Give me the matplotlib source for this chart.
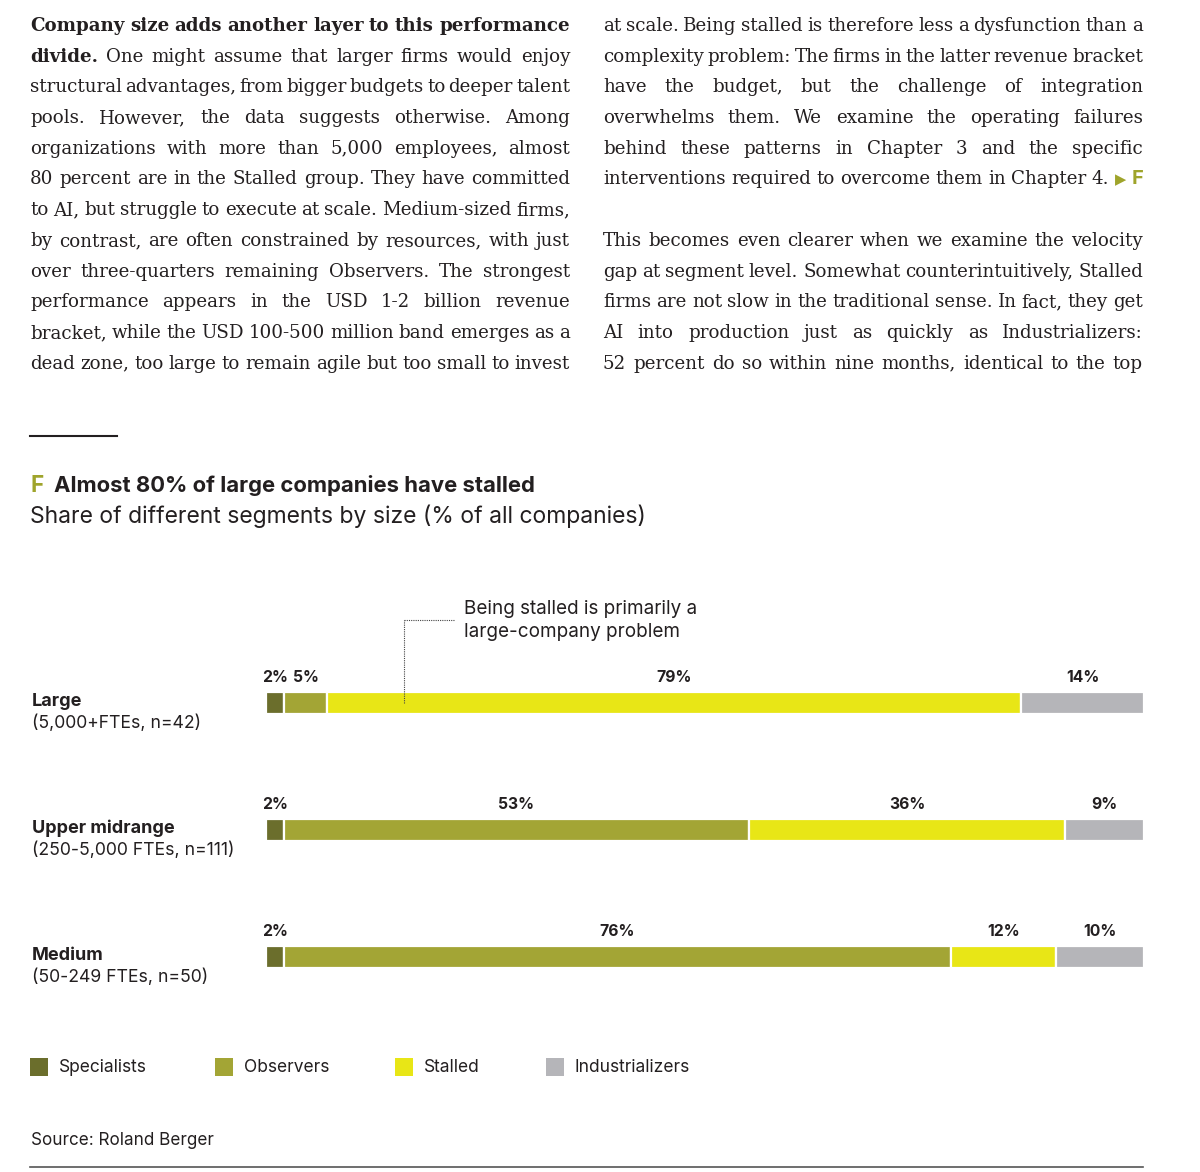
import matplotlib
matplotlib.use("Agg")
import matplotlib.pyplot as plt
from matplotlib.patches import Rectangle
from matplotlib.lines import Line2D
import numpy as np

W, H = 1200, 1172

# chart data
categories = ["Large", "Upper midrange", "Medium"]
sizes = ["(5,000+FTEs, n=42)", "(250-5,000 FTEs, n=111)", "(50-249 FTEs, n=50)"]
segments = ["Specialists", "Observers", "Stalled", "Industrializers"]
specialists = [2, 2, 2]
observers = [5, 53, 76]
stalled = [79, 36, 12]
industrializers = [14, 9, 10]
colors = ["#6b6e2c", "#a3a535", "#e8e616", "#b5b5b9"]

# body text above the chart
left_lines = [
    "Company size adds another layer to this performance",
    "divide. One might assume that larger firms would enjoy",
    "structural advantages, from bigger budgets to deeper talent",
    "pools. However, the data suggests otherwise. Among",
    "organizations with more than 5,000 employees, almost",
    "80 percent are in the Stalled group. They have committed",
    "to AI, but struggle to execute at scale. Medium-sized firms,",
    "by contrast, are often constrained by resources, with just",
    "over three-quarters remaining Observers. The strongest",
    "performance appears in the USD 1-2 billion revenue",
    "bracket, while the USD 100-500 million band emerges as a",
    "dead zone, too large to remain agile but too small to invest",
]
right_lines = [
    "at scale. Being stalled is therefore less a dysfunction than a",
    "complexity problem: The firms in the latter revenue bracket",
    "have the budget, but the challenge of integration",
    "overwhelms them. We examine the operating failures",
    "behind these patterns in Chapter 3 and the specific",
    "interventions required to overcome them in Chapter 4.",
    "",
    "This becomes even clearer when we examine the velocity",
    "gap at segment level. Somewhat counterintuitively, Stalled",
    "firms are not slow in the traditional sense. In fact, they get",
    "AI into production just as quickly as Industrializers:",
    "52 percent do so within nine months, identical to the top",
]
n_bold = 9  # words of the lead-in sentence set in bold

serif = "DejaVu Serif"
sans = "Inter"
ink = "#231f20"
olive = "#9fa42b"


def px(x, y):
    return x / W, 1 - y / H


fig = plt.figure(figsize=(W / 100, H / 100), dpi=100)
fig.patch.set_facecolor("white")
renderer = fig.canvas.get_renderer()


def make_tokens(size):
    rows = []
    k = 0
    for i, line in enumerate(left_lines):
        toks = []
        for w in line.split():
            toks.append((w, dict(family=serif, fontsize=size, color=ink,
                                 weight="bold" if k < n_bold else "normal")))
            k += 1
        rows.append((toks, 30, 570, 31 + i * 30.7))
    for i, line in enumerate(right_lines):
        if not line:
            continue
        toks = [(w, dict(family=serif, fontsize=size, color=ink)) for w in line.split()]
        if line.endswith("Chapter 4."):
            toks.append(("\u25B6", dict(family="DejaVu Sans", fontsize=size * 0.8, color=olive)))
            toks.append(("F", dict(family=sans, fontsize=size * 1.1, weight="bold", color=olive)))
        rows.append((toks, 603, 1143, 31 + i * 30.7))
    return rows


def measure(tokens):
    arts = [fig.text(0, 0, w, **kw) for w, kw in tokens]
    widths = [a.get_window_extent(renderer).width for a in arts]
    for a in arts:
        a.remove()
    return widths


# pick the body size so the tightest line still keeps a word space
ref = 12.0
fit = []
for toks, x0, x1, yb in make_tokens(ref):
    widths = measure(toks)
    natural = sum(widths) + (len(toks) - 1) * ref * 1.389 * 0.19
    fit.append((x1 - x0) / natural)
body_size = ref * min(fit)

for toks, x0, x1, yb in make_tokens(body_size):
    arts = [fig.text(0, 0, w, va="baseline", ha="left", **kw) for w, kw in toks]
    widths = [a.get_window_extent(renderer).width for a in arts]
    gap = (x1 - x0 - sum(widths)) / max(len(arts) - 1, 1)
    x = x0
    for a, w in zip(arts, widths):
        a.set_position(px(x, yb))
        x += w + gap

# short rule + titles
fig.add_artist(Line2D([30 / W, 117 / W], [1 - 436 / H] * 2, color="#231f20", lw=1.5))
fig.text(*px(30, 492), "F", family=sans, fontsize=16.2, weight="bold", color=olive, va="baseline")
fig.text(*px(54, 492), "Almost 80% of large companies have stalled", family=sans, fontsize=15.9,
         weight="bold", color=ink, va="baseline")
fig.text(*px(30, 523), "Share of different segments by size (% of all companies)", family=sans,
         fontsize=16.5, color=ink, va="baseline")

# stacked bars
ax = fig.add_axes([266 / W, 1 - 1020.5 / H, 878 / W, 381 / H])
y = np.arange(len(categories))
left = np.zeros(len(categories))
for name, vals, c in zip(segments, [specialists, observers, stalled, industrializers], colors):
    ax.barh(y, vals, left=left, height=0.172, color=c, edgecolor="white", linewidth=1.6)
    for yi, l, v in zip(y, left, vals):
        ax.text(l + v / 2, yi - 0.163, f"{v}%", ha="center", va="baseline", fontsize=11.3,
                family=sans, weight="bold", color=ink)
    left += np.array(vals)
ax.set_xlim(0, 100)
ax.set_ylim(len(categories) - 0.5, -0.5)
ax.axis("off")

# row labels
for yi, cat, sz in zip(y, categories, sizes):
    ax.text(-26.65, yi + 0.02, cat, ha="left", va="baseline", fontsize=13, family=sans,
            weight="bold", color=ink, clip_on=False)
    ax.text(-26.65, yi + 0.195, sz, ha="left", va="baseline", fontsize=12.7, family=sans,
            color=ink, clip_on=False)

# callout
ax.plot([15.7, 15.7], [0, -0.654], ls=(0, (1, 1)), lw=0.8, color="#444444", clip_on=False)
ax.plot([15.7, 21.5], [-0.654, -0.654], ls=(0, (1, 1)), lw=0.8, color="#444444", clip_on=False)
fig.text(*px(464, 614), "Being stalled is primarily a", family=sans, fontsize=13.6, color=ink, va="baseline")
fig.text(*px(464, 637), "large-company problem", family=sans, fontsize=13.6, color=ink, va="baseline")

# legend
for name, c, lx in zip(segments, colors, [30, 215, 395, 546]):
    fig.add_artist(Rectangle(px(lx, 1076), 18 / W, 18 / H, transform=fig.transFigure,
                             color=c, lw=0))
    fig.text(*px(lx + 29, 1072), name, family=sans, fontsize=12.5, color=ink, va="baseline")

fig.text(*px(31, 1145), "Source: Roland Berger", family=sans, fontsize=12.3, color=ink, va="baseline")
fig.add_artist(Line2D([30 / W, 1143 / W], [1 - 1167 / H] * 2, color="#555555", lw=1.2))

fig.savefig("out.png", dpi=100, facecolor="white")
